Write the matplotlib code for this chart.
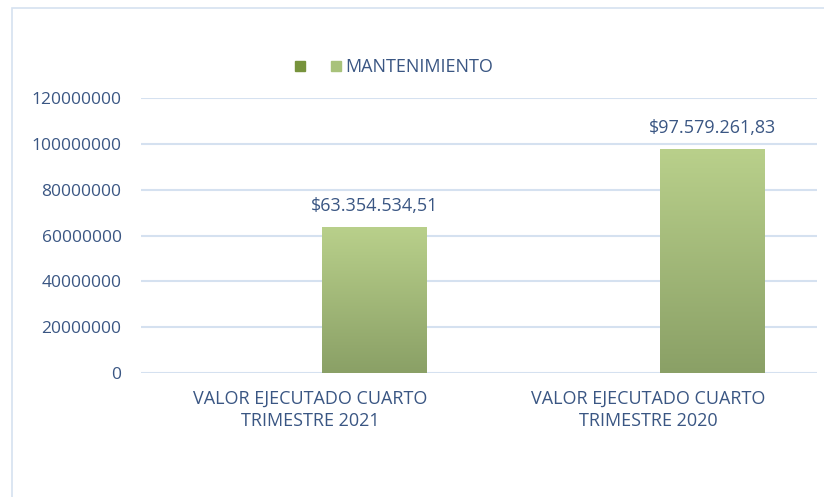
import matplotlib.pyplot as plt
import numpy as np
from matplotlib.patches import Rectangle
from matplotlib.colors import LinearSegmentedColormap
from matplotlib.lines import Line2D

categorias = ["VALOR EJECUTADO CUARTO\nTRIMESTRE 2021", "VALOR EJECUTADO CUARTO\nTRIMESTRE 2020"]
serie_vacia = [0, 0]
mantenimiento = [63354534.51, 97579261.83]
etiquetas = ["$63.354.534,51", "$97.579.261,83"]
ticks_y = [0, 20000000, 40000000, 60000000, 80000000, 100000000, 120000000]

texto = "#3A5683"
rejilla = "#D5E1F0"
verde_oscuro = "#77933C"
verde_claro = "#B9D08B"
verde_bajo = "#8AA066"

plt.rcParams['font.family'] = ['Open Sans', 'DejaVu Sans']

fig = plt.figure(figsize=(8.24, 4.97), dpi=100)
fig.patches.append(Rectangle((12/824, -0.1), 1.0, 1 - 8/497 + 0.1, transform=fig.transFigure,
                             fill=False, edgecolor="#D6E2F0", linewidth=1.2))
ax = fig.add_axes([141/824, 1 - 373/497, 676/824, 275/497])

x = np.arange(len(categorias))
ancho = 0.31
desp = 0.19
ax.bar(x - desp, serie_vacia, ancho, color=verde_oscuro)
barras = ax.bar(x + desp, mantenimiento, ancho, color="none", zorder=3)

cmap = LinearSegmentedColormap.from_list("g", [verde_bajo, verde_claro])
grad = np.linspace(0, 1, 256).reshape(-1, 1)
for b in barras:
    x0, w, h = b.get_x(), b.get_width(), b.get_height()
    ax.imshow(grad, cmap=cmap, origin="lower", aspect="auto",
              extent=[x0, x0 + w, 0, h], zorder=3)

for b, t in zip(barras, etiquetas):
    ax.annotate(t, (b.get_x() + b.get_width() / 2, b.get_height()),
                xytext=(0, 9), textcoords="offset points", ha="center", va="bottom",
                color=texto, fontsize=13)

ax.set_xlim(-0.5, 1.5)
ax.set_ylim(0, 120000000)
ax.set_yticks(ticks_y)
ax.set_yticklabels([str(v) for v in ticks_y])
ax.set_xticks(x)
ax.set_xticklabels(categorias, linespacing=1.3)
ax.tick_params(axis="y", length=0, pad=14, labelcolor=texto, labelsize=12.5)
ax.tick_params(axis="x", length=0, pad=12, labelcolor=texto, labelsize=13)
ax.grid(axis="y", color=rejilla, linewidth=1.5, zorder=0)
ax.set_axisbelow(True)
for s in ax.spines.values():
    s.set_visible(False)

h1 = Line2D([], [], marker="s", linestyle="none", markersize=7, color=verde_oscuro)
h2 = Line2D([], [], marker="s", linestyle="none", markersize=7, color="#A8C27A")
fig.legend([h1, h2], ["", "MANTENIMIENTO"], loc="center", bbox_to_anchor=(394/824, 1 - 67/497),
           ncol=2, frameon=False, handlelength=0.6, handletextpad=0.2, columnspacing=1.2,
           labelcolor=texto, fontsize=13)

fig.savefig("out.png", dpi=100)
